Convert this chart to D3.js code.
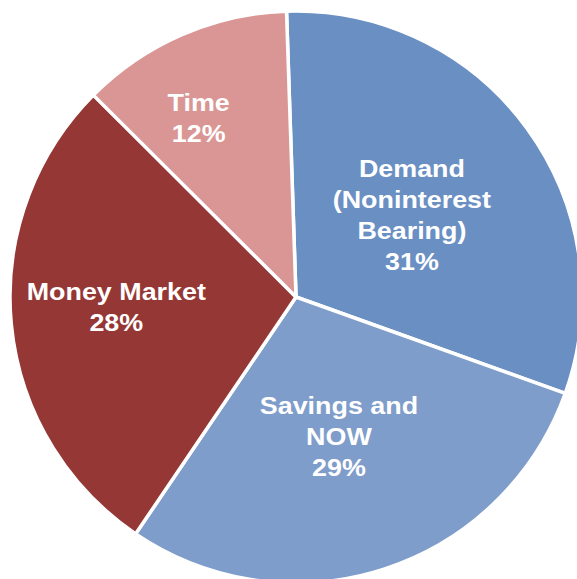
<!DOCTYPE html>
<html>
<head>
<meta charset="utf-8">
<script src="https://cdn.jsdelivr.net/npm/d3@7"></script>
<style>
  body { margin: 0; background: #fff; }
  svg { display: block; }
</style>
</head>
<body>
<div id="chart"></div>
<script>
// data
const categories = ["Demand|(Noninterest|Bearing)", "Savings and|NOW", "Money Market", "Time"];
const shares = [31, 29, 28, 12];
const colors = ["#6a8fc3", "#7f9dca", "#953735", "#d99694"];

// label placement: distance from centre and angle tweak (deg), per slice
const labelRadius = [142, 146, 180, 204];
const labelShift = [0.8, 1, 2.3, -5];

const width = 577, height = 579;
const cx = 296, cy = 297, r = 286;

const svg = d3.select("#chart").append("svg")
    .attr("width", width)
    .attr("height", height);

const g = svg.append("g").attr("transform", `translate(${cx},${cy})`);

const start = -1.9 * Math.PI / 180;
const pie = d3.pie()
    .value(d => d.v)
    .sort(null)
    .startAngle(start)
    .endAngle(start + 2 * Math.PI);

const data = categories.map((c, i) => ({ name: c, v: shares[i], i }));
const arcs = pie(data);

const arc = d3.arc().innerRadius(0).outerRadius(r);

g.selectAll("path.slice")
  .data(arcs)
  .join("path")
    .attr("class", "slice")
    .attr("d", arc)
    .attr("fill", d => colors[d.data.i])
    .attr("stroke", "#fff")
    .attr("stroke-width", 3.5)
    .attr("stroke-linejoin", "round");

const lineH = 31;
g.selectAll("text.lbl")
  .data(arcs)
  .join("text")
    .attr("class", "lbl")
    .attr("fill", "#fff")
    .attr("font-family", "Liberation Sans, Arial, sans-serif")
    .attr("font-weight", "bold")
    .attr("font-size", 24)
    .attr("text-anchor", "middle")
    .each(function(d) {
      const a = (d.startAngle + d.endAngle) / 2 + labelShift[d.data.i] * Math.PI / 180;
      const rr = labelRadius[d.data.i];
      const x = Math.sin(a) * rr, y = -Math.cos(a) * rr;
      const lines = d.data.name.split("|").concat([d.data.v + "%"]);
      const top = -(lines.length - 1) * lineH / 2;
      // Excel's text renders a little wider than Arial, so stretch horizontally
      const t = d3.select(this).attr("transform", `translate(${x},${y}) scale(1.12,1)`);
      lines.forEach((ln, k) => {
        t.append("tspan")
          .attr("x", 0)
          .attr("y", top + k * lineH)
          .attr("dy", "0.35em")
          .text(ln);
      });
    });
</script>
</body>
</html>
